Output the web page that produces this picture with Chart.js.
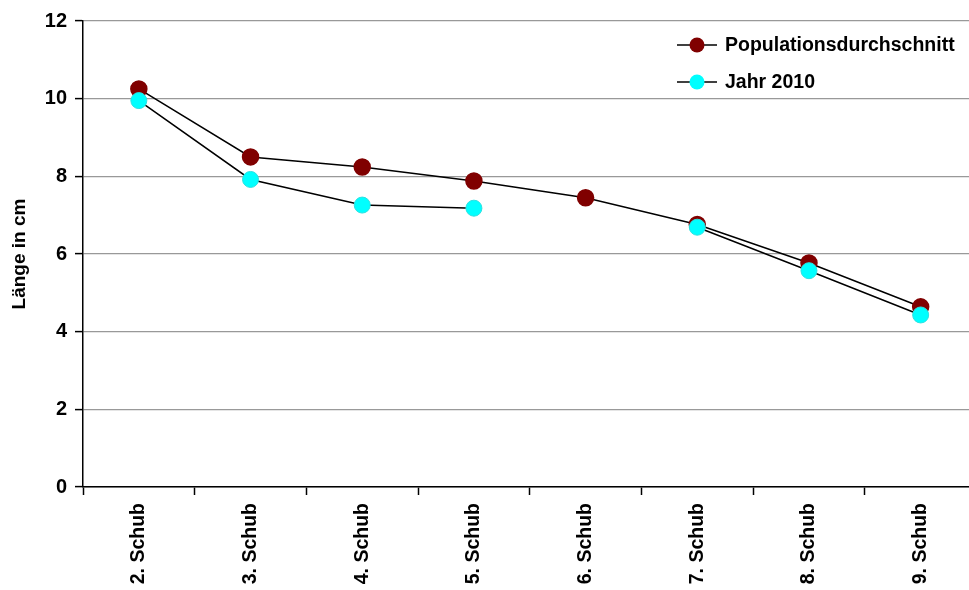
<!DOCTYPE html>
<html lang="de">
<head>
  <meta charset="UTF-8" />
  <title>Länge in cm</title>
  <script src="https://cdn.jsdelivr.net/npm/chart.js"></script>
  <style>
    html, body { margin: 0; padding: 0; background: #fff; overflow: hidden; }
    /* plot area runs slightly past the right edge in the original, so the canvas is a bit wider and clipped */
    #wrap { width: 969px; height: 590px; overflow: hidden; }
  </style>
</head>
<body>
  <div id="wrap"><canvas id="lenChart" width="986" height="590"></canvas></div>

  <script>
    const categories = ["2. Schub", "3. Schub", "4. Schub", "5. Schub", "6. Schub", "7. Schub", "8. Schub", "9. Schub"];
    const populationAvg = [10.25, 8.5, 8.24, 7.88, 7.45, 6.76, 5.77, 4.64];
    const year2010 = [9.95, 7.92, 7.26, 7.18, null, 6.69, 5.57, 4.43];
    const yTicks = [0, 2, 4, 6, 8, 10, 12];

    const FONT = "'Liberation Sans', Arial, sans-serif";

    // legend drawn inside the plot, top right, line through marker like the original
    const innerLegend = {
      id: "innerLegend",
      afterDraw(chart) {
        const ctx = chart.ctx;
        const x0 = 697, y0 = 45, gap = 37;
        chart.data.datasets.forEach((ds, i) => {
          const y = y0 + i * gap;
          ctx.save();
          ctx.strokeStyle = "#000";
          ctx.lineWidth = 1.5;
          ctx.beginPath();
          ctx.moveTo(x0 - 20, y);
          ctx.lineTo(x0 + 20, y);
          ctx.stroke();
          ctx.fillStyle = ds.pointBackgroundColor;
          ctx.beginPath();
          ctx.arc(x0, y, 7.5, 0, Math.PI * 2);
          ctx.fill();
          ctx.fillStyle = "#000";
          ctx.font = "bold 19.5px " + FONT;
          ctx.textBaseline = "middle";
          ctx.textAlign = "left";
          ctx.fillText(ds.label, x0 + 28, y + 1);
          ctx.restore();
        });
      }
    };

    const ctx = document.getElementById("lenChart").getContext("2d");
    new Chart(ctx, {
      type: "line",
      data: {
        labels: categories,
        datasets: [
          {
            label: "Populationsdurchschnitt",
            data: populationAvg,
            order: 1,
            borderColor: "#000",
            borderWidth: 1.5,
            pointBackgroundColor: "#800000",
            pointBorderColor: "#800000",
            pointRadius: 8,
            tension: 0
          },
          {
            label: "Jahr 2010",
            data: year2010,
            order: 0,
            borderColor: "#000",
            borderWidth: 1.5,
            pointBackgroundColor: "#00FFFF",
            pointBorderColor: "#2ce0e0",
            pointBorderWidth: 1,
            pointRadius: 8,
            spanGaps: false,
            tension: 0
          }
        ]
      },
      options: {
        responsive: false,
        animation: false,
        layout: { padding: { top: 21, right: 0, left: 0, bottom: 0 } },
        plugins: {
          legend: { display: false },
          tooltip: { enabled: false }
        },
        scales: {
          x: {
            offset: true,
            afterFit(scale) { scale.height = 103; },
            grid: {
              offset: true,
              drawOnChartArea: false,
              drawTicks: true,
              tickLength: 8,
              tickColor: "#000",
              tickWidth: 1.5
            },
            border: { color: "#000", width: 1.5 },
            ticks: {
              minRotation: 90,
              maxRotation: 90,
              padding: 8,
              color: "#000",
              font: { family: FONT, size: 19.5, weight: "bold" }
            }
          },
          y: {
            min: 0,
            max: 12,
            afterFit(scale) { scale.width = 83; },
            afterBuildTicks(scale) { scale.ticks = yTicks.map(v => ({ value: v })); },
            grid: {
              color: "#999",
              lineWidth: 1.2,
              drawTicks: true,
              tickLength: 8,
              tickColor: "#000",
              tickWidth: 1.5
            },
            border: { color: "#000", width: 1.5 },
            title: {
              display: true,
              text: "Länge in cm",
              color: "#000",
              padding: { top: 8, bottom: 0 },
              font: { family: FONT, size: 19, weight: "bold" }
            },
            ticks: {
              padding: 8,
              color: "#000",
              font: { family: FONT, size: 20, weight: "bold" }
            }
          }
        }
      },
      plugins: [innerLegend]
    });
  </script>
</body>
</html>
